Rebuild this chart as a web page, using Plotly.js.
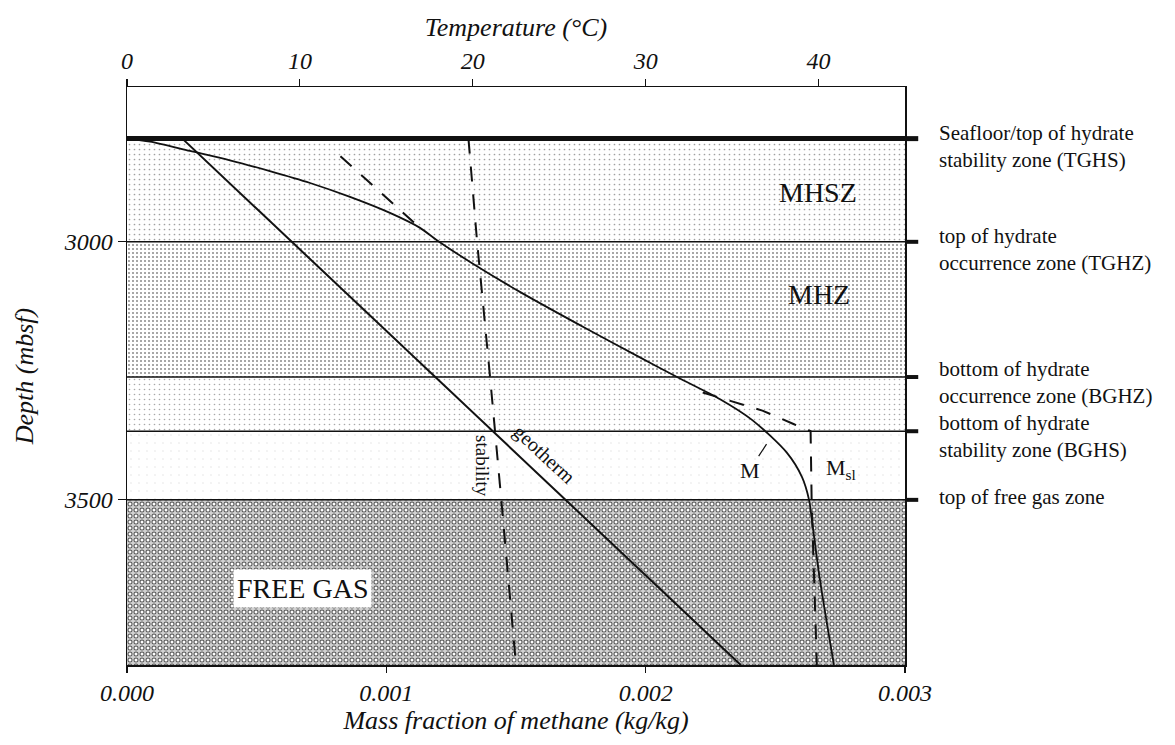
<!DOCTYPE html>
<html>
<head>
<meta charset="utf-8">
<script src="https://cdn.plot.ly/plotly-3.0.1.min.js"></script>
<style>html,body{margin:0;padding:0;background:#fff;}</style>
</head>
<body>
<div id="chart" style="width:1175px;height:745px;"></div>
<script>
// ---------------- data ----------------
const massFracTicks = [0, 0.001, 0.002, 0.003];
const massFracTickLabels = ['0.000', '0.001', '0.002', '0.003'];
const tempTicks = [0, 10, 20, 30, 40];
const depthTicks = [3000, 3500];

// zone boundaries (mbsf)
const boundaryDepths = [2800, 3000, 3262, 3367, 3500];
const boundaryLabels = [
  'Seafloor/top of hydrate<br>stability zone (TGHS)',
  'top of hydrate<br>occurrence zone (TGHZ)',
  'bottom of hydrate<br>occurrence zone (BGHZ)',
  'bottom of hydrate<br>stability zone (BGHS)',
  'top of free gas zone'
];

// zones
const zoneNames = ['MHSZ', 'MHZ', 'BGHZ-BGHS', 'BGHS-free gas', 'FREE GAS'];
const zoneTopDepth = [2800, 3000, 3262, 3367, 3500];
const zoneBottomDepth = [3000, 3262, 3367, 3500, 3820];

// geotherm (temperature, deg C)
const geothermDepth = [2800, 3820];
const geothermTemp = [3.2, 35.5];

// hydrate stability temperature (deg C)
const stabilityDepth = [2800, 3000, 3262, 3367, 3500, 3820];
const stabilityTemp = [19.75, 20.25, 21.0, 21.3, 21.65, 22.5];

// methane mass fraction M
const mDepth = [2800, 2806, 2824, 2842, 2863, 2886, 2913, 2944, 2973, 2997, 3039, 3097, 3169, 3221, 3262, 3305, 3345, 3409, 3456, 3500, 3539, 3655, 3820];
const mFrac  = [0, 0.0000887, 0.000243, 0.000397, 0.000551, 0.000706, 0.00086, 0.001014, 0.00113, 0.001195, 0.001323, 0.001515, 0.001774, 0.001967, 0.002121, 0.002287, 0.00241, 0.002545, 0.002603, 0.00263, 0.002641, 0.002672, 0.002726];

// methane solubility M_sl (dashed)
const mslUpperDepth = [2834, 2971];
const mslUpperFrac = [0.000823, 0.001125];
const mslLowerDepth = [3292, 3327, 3353, 3367, 3500, 3820];
const mslLowerFrac = [0.00222, 0.00245, 0.00257, 0.002636, 0.00264, 0.00266];

// ---------------- drawing ----------------
const xMin = massFracTicks[0], xMax = massFracTicks[massFracTicks.length - 1];
const SERIF = 'Liberation Serif, Times New Roman, serif';
const INK = '#111';

const zoneStyles = [
  {bgcolor: '#ffffff', fgcolor: '#a0a0a0', size: 5, solidity: 0.09},
  {bgcolor: '#ffffff', fgcolor: '#8a8a8a', size: 4, solidity: 0.2},
  {bgcolor: '#ffffff', fgcolor: '#a8a8a8', size: 5, solidity: 0.08},
  {bgcolor: '#ffffff', fgcolor: '#e4e4e4', size: 8, solidity: 0.03},
  {bgcolor: '#d2d2d2', fgcolor: '#555555', size: 6, solidity: 0.55}
];

function zonePolygon(i) {
  const t = zoneTopDepth[i], b = zoneBottomDepth[i];
  return {x: [xMin, xMax, xMax, xMin, xMin], y: [t, t, b, b, t]};
}

const traces = [];
zoneNames.forEach((name, i) => {
  const poly = zonePolygon(i);
  traces.push({
    type: 'scatter', name: name, x: poly.x, y: poly.y,
    xaxis: 'x', yaxis: 'y',
    mode: 'none', fill: 'toself',
    fillcolor: zoneStyles[i].bgcolor,
    fillpattern: {shape: '.', bgcolor: zoneStyles[i].bgcolor, fgcolor: zoneStyles[i].fgcolor,
                  size: zoneStyles[i].size, solidity: zoneStyles[i].solidity},
    hoverinfo: 'skip'
  });
});
// white centres on the free-gas dots -> ring texture
{
  const poly = zonePolygon(zoneNames.length - 1);
  traces.push({
    type: 'scatter', name: 'FREE GAS rings', x: poly.x, y: poly.y,
    xaxis: 'x', yaxis: 'y', mode: 'none', fill: 'toself',
    fillcolor: 'rgba(0,0,0,0)',
    fillpattern: {shape: '.', bgcolor: 'rgba(0,0,0,0)', fgcolor: '#ffffff', size: 6, solidity: 0.2},
    hoverinfo: 'skip'
  });
}

// boundary lines
boundaryDepths.forEach((d, i) => {
  traces.push({
    type: 'scatter', x: [xMin, xMax], y: [d, d], xaxis: 'x', yaxis: 'y',
    mode: 'lines', line: {color: INK, width: i === 0 ? 5 : 1.5}, hoverinfo: 'skip'
  });
});

traces.push({
  type: 'scatter', name: 'geotherm', x: geothermTemp, y: geothermDepth,
  xaxis: 'x2', yaxis: 'y', mode: 'lines', line: {color: INK, width: 2}
});
traces.push({
  type: 'scatter', name: 'stability', x: stabilityTemp, y: stabilityDepth,
  xaxis: 'x2', yaxis: 'y', mode: 'lines', line: {color: INK, width: 2, dash: '15px,13px'}
});
traces.push({
  type: 'scatter', name: 'M', x: mFrac, y: mDepth,
  xaxis: 'x', yaxis: 'y', mode: 'lines', line: {color: INK, width: 1.8, shape: 'spline', smoothing: 0.8}
});
traces.push({
  type: 'scatter', name: 'Msl upper', x: mslUpperFrac, y: mslUpperDepth,
  xaxis: 'x', yaxis: 'y', mode: 'lines', line: {color: INK, width: 2, dash: '15px,13px'}
});
traces.push({
  type: 'scatter', name: 'Msl lower', x: mslLowerFrac, y: mslLowerDepth,
  xaxis: 'x', yaxis: 'y', mode: 'lines', line: {color: INK, width: 2, dash: '15px,13px'}
});

// shapes: thick ticks outside right, seafloor extension
const shapes = boundaryDepths.map((d, i) => ({
  type: 'line', xref: 'paper', yref: 'y', x0: 1, x1: 1.017, y0: d, y1: d,
  line: {color: INK, width: i === 0 ? 5 : 4}
}));

// annotations
const labelShifts = [-8, -8, -5, -5, 3];
const annotations = boundaryLabels.map((txt, i) => ({
  xref: 'paper', yref: 'y', x: 1.0411, y: boundaryDepths[i], yshift: labelShifts[i],
  xanchor: 'left', yanchor: 'middle', align: 'left', showarrow: false, text: txt,
  font: {family: SERIF, size: 21, color: INK}
}));
const zoneLabelFont = {family: SERIF, size: 28, color: INK};
annotations.push({x: 0.002663, y: 2905, xref: 'x', yref: 'y', text: 'MHSZ', showarrow: false, font: zoneLabelFont});
annotations.push({x: 0.002667, y: 3103, xref: 'x', yref: 'y', text: 'MHZ', showarrow: false, font: zoneLabelFont});
annotations.push({x: 0.000676, y: 3671, xref: 'x', yref: 'y', text: 'FREE GAS', showarrow: false,
  font: zoneLabelFont, bgcolor: '#ffffff', borderpad: 3});
annotations.push({x: 0.001368, y: 3434, xref: 'x', yref: 'y', text: 'stability', showarrow: false,
  textangle: 90, font: {family: SERIF, size: 19, color: INK}});
annotations.push({x: 0.001608, y: 3413, xref: 'x', yref: 'y', text: 'geotherm', showarrow: false,
  textangle: 43, font: {family: SERIF, size: 20, color: INK}});
annotations.push({x: 0.002466, y: 3392, xref: 'x', yref: 'y', text: 'M', showarrow: true,
  ax: -17, ay: 26, arrowhead: 0, arrowwidth: 1.2, arrowcolor: INK, standoff: 0,
  font: {family: SERIF, size: 22, color: INK}});
annotations.push({x: 0.002687, y: 3440, xref: 'x', yref: 'y', text: 'M<sub>sl</sub>', showarrow: false,
  xanchor: 'left', font: {family: SERIF, size: 22, color: INK}});

const tickFont = {family: SERIF, size: 24, style: 'italic', color: INK};
const titleFont = {family: SERIF, size: 26, style: 'italic', color: INK};

const layout = {
  width: 1175, height: 745,
  margin: {l: 127, r: 270, t: 87, b: 80},
  paper_bgcolor: '#ffffff', plot_bgcolor: '#ffffff',
  showlegend: false,
  font: {family: SERIF, color: INK},
  xaxis: {
    range: [xMin, xMax], tickvals: massFracTicks, ticktext: massFracTickLabels,
    ticks: 'outside', ticklen: 6, tickwidth: 1.2, tickcolor: INK,
    showline: true, linecolor: INK, linewidth: 1.5, showgrid: false, zeroline: false,
    tickfont: tickFont,
    title: {text: 'Mass fraction of methane (kg/kg)', font: titleFont, standoff: 0}
  },
  xaxis2: {
    overlaying: 'x', side: 'top', anchor: 'y', range: [0, 45], tickvals: tempTicks,
    ticks: 'outside', ticklen: 7, tickwidth: 1.2, tickcolor: INK,
    showline: true, linecolor: INK, linewidth: 1.5, showgrid: false, zeroline: false,
    tickfont: tickFont,
    title: {text: 'Temperature (°C)', font: titleFont, standoff: 4}
  },
  yaxis: {
    range: [3820, 2700], tickvals: depthTicks,
    ticks: 'outside', ticklen: 8, tickwidth: 1.2, tickcolor: INK,
    showline: true, mirror: true, linecolor: INK, linewidth: 1.5, showgrid: false, zeroline: false,
    tickfont: tickFont,
    title: {text: 'Depth (mbsf)', font: {family: SERIF, size: 26, style: 'italic', color: INK}, standoff: 22}
  },
  shapes: shapes,
  annotations: annotations
};

Plotly.newPlot('chart', traces, layout, {displayModeBar: false, staticPlot: true});
</script>
</body>
</html>
